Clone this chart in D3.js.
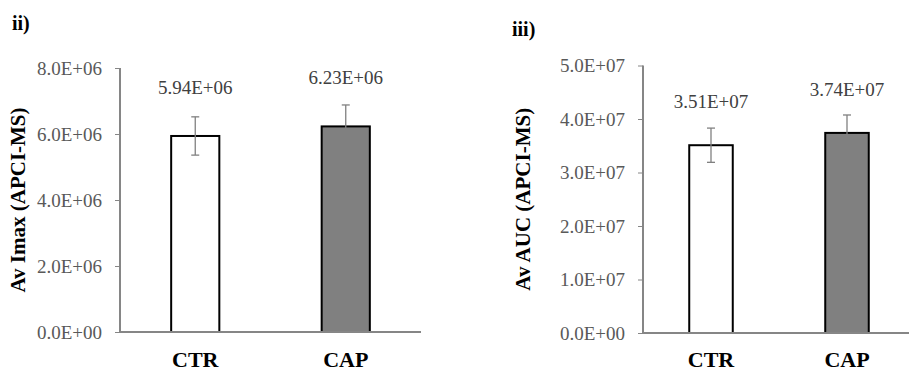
<!DOCTYPE html>
<html>
<head>
<meta charset="utf-8">
<script src="https://cdn.jsdelivr.net/npm/d3@7"></script>
<style>
  html, body { margin: 0; padding: 0; background: #fff; }
  svg { display: block; font-family: "Liberation Serif", "Times New Roman", serif; }
</style>
</head>
<body>
<svg id="chart" width="909" height="371"></svg>
<script>
// data
const categories = ['CTR', 'CAP'];
const imaxValues = [5.94e6, 6.23e6];
const imaxErrors = [0.58e6, 0.65e6];
const imaxTicks = [0, 2e6, 4e6, 6e6, 8e6];
const aucValues = [3.51e7, 3.74e7];
const aucErrors = [0.32e7, 0.335e7];
const aucTicks = [0, 1e7, 2e7, 3e7, 4e7, 5e7];
const barFills = ['#ffffff', '#808080'];

// excel style scientific notation, e.g. 5.94E+06
function sci(v, digits) {
    let s = d3.format('.' + digits + 'e')(v);
    let [mant, exp] = s.split('e');
    let sign = exp[0] === '-' ? '-' : '+';
    exp = exp.replace(/^[+-]/, '');
    if (exp.length < 2) exp = '0' + exp;
    return mant + 'E' + sign + exp;
}

const svg = d3.select('#chart');

function panel(opts) {
    let {tag, tagPos, title, titleX, values, errors, ticks, xRange, yRange, labelOffset} = opts;

    let x = d3.scaleBand().domain(categories).range(xRange)
        .paddingInner(0.68).paddingOuter(0.34);
    let y = d3.scaleLinear().domain([0, ticks[ticks.length - 1]]).range(yRange);

    let g = svg.append('g');

    g.append('text')
        .attr('x', tagPos[0]).attr('y', tagPos[1])
        .attr('font-size', 20).attr('font-weight', 'bold')
        .text(tag);

    // y axis
    let yAxis = d3.axisLeft(y).tickValues(ticks).tickSize(5).tickPadding(13)
        .tickFormat(d => sci(d, 1));
    let ya = g.append('g')
        .attr('transform', `translate(${xRange[0]},0)`)
        .call(yAxis);
    ya.select('.domain').remove();
    ya.selectAll('.tick line').attr('stroke', '#868686').attr('stroke-width', 1);
    ya.selectAll('.tick text').attr('font-size', 19).attr('fill', '#595959')
        .attr('font-family', '"Liberation Serif", "Times New Roman", serif');
    g.append('line')
        .attr('x1', xRange[0]).attr('x2', xRange[0])
        .attr('y1', yRange[0]).attr('y2', yRange[1])
        .attr('stroke', '#868686').attr('stroke-width', 2);

    // y title
    let midY = (yRange[0] + yRange[1]) / 2;
    g.append('text')
        .attr('transform', `translate(${titleX},${midY}) rotate(-90)`)
        .attr('text-anchor', 'middle')
        .attr('font-size', 21).attr('font-weight', 'bold')
        .text(title);

    // bars
    g.selectAll('rect.bar').data(values).enter()
        .append('rect').attr('class', 'bar')
        .attr('x', (d, i) => x(categories[i]))
        .attr('width', x.bandwidth())
        .attr('y', d => y(d))
        .attr('height', d => y(0) - y(d))
        .attr('fill', (d, i) => barFills[i])
        .attr('stroke', '#000').attr('stroke-width', 2);

    // error bars
    let eb = g.selectAll('g.err').data(values).enter().append('g').attr('class', 'err');
    let cx = i => x(categories[i]) + x.bandwidth() / 2;
    eb.append('line')
        .attr('x1', (d, i) => cx(i)).attr('x2', (d, i) => cx(i))
        .attr('y1', (d, i) => y(d - errors[i])).attr('y2', (d, i) => y(d + errors[i]));
    eb.append('line')
        .attr('x1', (d, i) => cx(i) - 4).attr('x2', (d, i) => cx(i) + 4)
        .attr('y1', (d, i) => y(d + errors[i])).attr('y2', (d, i) => y(d + errors[i]));
    eb.append('line')
        .attr('x1', (d, i) => cx(i) - 4).attr('x2', (d, i) => cx(i) + 4)
        .attr('y1', (d, i) => y(d - errors[i])).attr('y2', (d, i) => y(d - errors[i]));
    eb.selectAll('line').attr('stroke', '#808080').attr('stroke-width', 1.3);

    // value labels
    g.selectAll('text.val').data(values).enter()
        .append('text').attr('class', 'val')
        .attr('x', (d, i) => cx(i))
        .attr('y', d => y(d) - labelOffset)
        .attr('text-anchor', 'middle')
        .attr('font-size', 19).attr('fill', '#404040')
        .text(d => sci(d, 2));

    // x axis line on top of bars
    g.append('line')
        .attr('x1', xRange[0]).attr('x2', xRange[1])
        .attr('y1', y(0)).attr('y2', y(0))
        .attr('stroke', '#868686').attr('stroke-width', 2);

    g.selectAll('text.cat').data(categories).enter()
        .append('text').attr('class', 'cat')
        .attr('x', d => x(d) + x.bandwidth() / 2)
        .attr('y', 367)
        .attr('text-anchor', 'middle')
        .attr('font-size', 22).attr('font-weight', 'bold')
        .text(d => d);
}

panel({
    tag: 'ii)', tagPos: [12, 30],
    title: 'Av Imax (APCI-MS)', titleX: 25,
    values: imaxValues, errors: imaxErrors, ticks: imaxTicks,
    xRange: [120, 421], yRange: [332, 68], labelOffset: 42
});

panel({
    tag: 'iii)', tagPos: [512, 36],
    title: 'Av AUC (APCI-MS)', titleX: 530,
    values: aucValues, errors: aucErrors, ticks: aucTicks,
    xRange: [643, 915], yRange: [333, 65.5], labelOffset: 37
});
</script>
</body>
</html>
